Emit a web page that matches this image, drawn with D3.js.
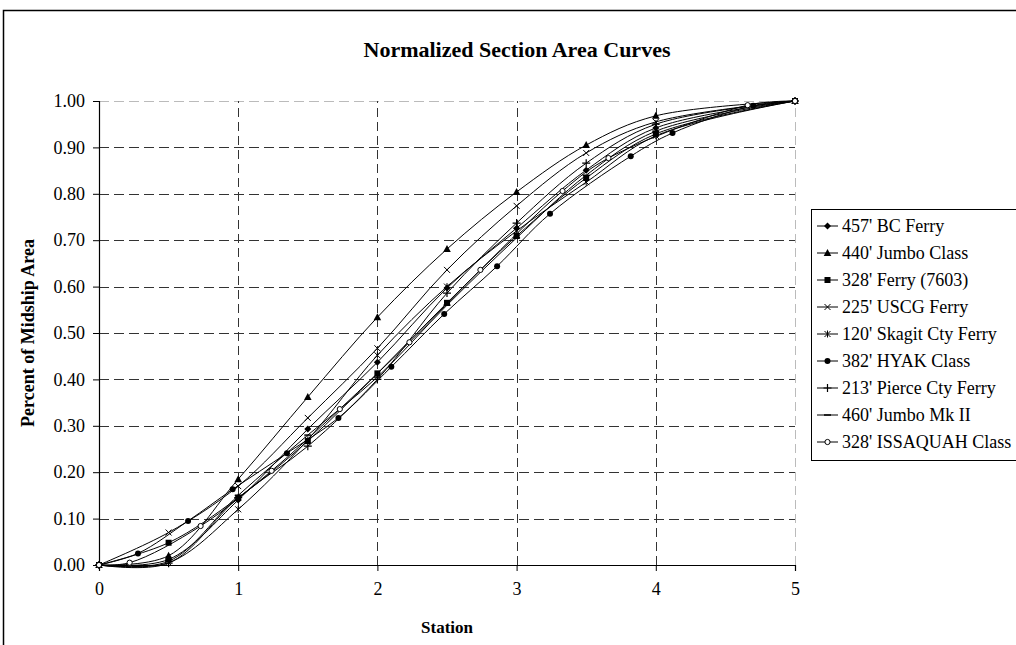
<!DOCTYPE html>
<html>
<head>
<meta charset="utf-8">
<script src="https://cdn.jsdelivr.net/npm/d3@7"></script>
<style>
  html, body { margin: 0; padding: 0; background: #fff; }
  svg { display: block; }
  text { font-family: "Liberation Serif", "Times New Roman", serif; fill: #000; }
</style>
</head>
<body>
<svg id="chart" width="1016" height="645"></svg>
<script>
// ---------------- data ----------------
const seriesNames = [
  "457' BC Ferry", "440' Jumbo Class", "328' Ferry (7603)", "225' USCG Ferry",
  "120' Skagit Cty Ferry", "382' HYAK Class", "213' Pierce Cty Ferry",
  "460' Jumbo Mk II", "328' ISSAQUAH Class"
];
const stations = [0, 0.5, 1, 1.5, 2, 2.5, 3, 3.5, 4, 5];
const bcFerry    = [0, 0.012, 0.140, 0.293, 0.437, 0.597, 0.726, 0.851, 0.942, 1.0];
const jumbo440   = [0, 0.020, 0.185, 0.362, 0.534, 0.681, 0.804, 0.905, 0.968, 1.0];
const ferry7603  = [0, 0.048, 0.145, 0.267, 0.413, 0.565, 0.709, 0.834, 0.929, 1.0];
const uscgFerry  = [0, 0.070, 0.170, 0.317, 0.467, 0.636, 0.774, 0.888, 0.955, 1.0];
const skagit     = [0, 0.005, 0.120, 0.270, 0.452, 0.600, 0.720, 0.825, 0.925, 1.0];
const pierce     = [0, 0.004, 0.145, 0.256, 0.400, 0.586, 0.737, 0.866, 0.950, 1.0];
const jumboMk2   = [0, 0.008, 0.150, 0.280, 0.405, 0.560, 0.705, 0.840, 0.935, 1.0];
const hyakStations = [0, 0.28, 0.64, 0.96, 1.35, 1.72, 2.10, 2.48, 2.86, 3.24, 3.82, 4.12, 4.70, 5];
const hyak         = [0, 0.025, 0.095, 0.163, 0.241, 0.317, 0.427, 0.541, 0.644, 0.757, 0.881, 0.931, 0.990, 1.0];
const issaquahStations = [0, 0.22, 0.73, 1.24, 1.73, 2.23, 2.74, 3.33, 3.66, 4.66, 5];
const issaquah         = [0, 0.005, 0.084, 0.203, 0.336, 0.480, 0.636, 0.806, 0.877, 0.991, 1.0];
const markerTypes = ["diamond", "triangle", "square", "x", "asterisk", "dot", "plus", "dash", "open"];
const xTicks = [0, 1, 2, 3, 4, 5];
const yTicks = [0, 0.1, 0.2, 0.3, 0.4, 0.5, 0.6, 0.7, 0.8, 0.9, 1.0];

const seriesX = [stations, stations, stations, stations, stations, hyakStations, stations, stations, issaquahStations];
const seriesY = [bcFerry, jumbo440, ferry7603, uscgFerry, skagit, hyak, pierce, jumboMk2, issaquah];
const series = seriesNames.map((name, i) => ({
  name, marker: markerTypes[i],
  pts: seriesX[i].map((s, j) => ({ x: s, y: seriesY[i][j] }))
}));

// ---------------- layout ----------------
const svg = d3.select("#chart");
const x = d3.scaleLinear().domain([0, 5]).range([99, 795]);
const y = d3.scaleLinear().domain([0, 1]).range([565, 101]);

// chart frame (extends past the right and bottom edges)
svg.append("rect").attr("x", 3.5).attr("y", 10.5).attr("width", 1040).attr("height", 660)
  .attr("fill", "#fff").attr("stroke", "#000").attr("stroke-width", 1.5);

// title
svg.append("text").attr("x", 517).attr("y", 57).attr("text-anchor", "middle")
  .attr("font-size", 22).attr("font-weight", "bold").text("Normalized Section Area Curves");

// gridlines
const grid = svg.append("g");
yTicks.filter(t => t > 0).forEach(t => {
  grid.append("line").attr("x1", x(0)).attr("x2", x(5)).attr("y1", Math.round(y(t)) + 0.5).attr("y2", Math.round(y(t)) + 0.5)
    .attr("stroke", t === 1 ? "#bbb" : "#333").attr("stroke-width", 1).attr("stroke-dasharray", "10,5");
});
xTicks.filter(t => t > 0).forEach(t => {
  grid.append("line").attr("y1", y(0)).attr("y2", y(1)).attr("x1", Math.round(x(t)) + 0.5).attr("x2", Math.round(x(t)) + 0.5)
    .attr("stroke", t === 5 ? "#bbb" : "#333").attr("stroke-width", 1).attr("stroke-dasharray", "9,5");
});

// axes
const yAxis = d3.axisLeft(y).tickValues(yTicks).tickFormat(d3.format(".2f")).tickSize(6).tickPadding(8);
const xAxis = d3.axisBottom(x).tickValues(xTicks).tickFormat(d3.format("d")).tickSize(6).tickPadding(11);
const gy = svg.append("g").attr("transform", `translate(${x(0)},0)`).call(yAxis);
const gx = svg.append("g").attr("transform", `translate(0,${y(0)})`).call(xAxis);
[gy, gx].forEach(g => {
  g.select(".domain").attr("stroke", "#000").attr("stroke-width", 1.2);
  g.selectAll(".tick line").attr("stroke", "#000");
  g.selectAll(".tick text").attr("font-size", 18).attr("font-family", "'Liberation Serif', serif").attr("fill", "#000");
});

// axis titles
svg.append("text").attr("transform", "translate(34,333) rotate(-90)").attr("text-anchor", "middle")
  .attr("font-size", 18).attr("font-weight", "bold").text("Percent of Midship Area");
svg.append("text").attr("x", 447).attr("y", 633).attr("text-anchor", "middle")
  .attr("font-size", 17).attr("font-weight", "bold").text("Station");

// marker drawing
function drawMarker(g, type, cx, cy) {
  switch (type) {
    case "diamond":
      g.append("path").attr("d", `M${cx},${cy-3.5}L${cx+3.5},${cy}L${cx},${cy+3.5}L${cx-3.5},${cy}Z`).attr("fill", "#000"); break;
    case "triangle":
      g.append("path").attr("d", `M${cx},${cy-4}L${cx+3.8},${cy+3}L${cx-3.8},${cy+3}Z`).attr("fill", "#000"); break;
    case "square":
      g.append("rect").attr("x", cx-3).attr("y", cy-3).attr("width", 6).attr("height", 6).attr("fill", "#000"); break;
    case "x":
      g.append("path").attr("d", `M${cx-3},${cy-3}L${cx+3},${cy+3}M${cx-3},${cy+3}L${cx+3},${cy-3}`).attr("stroke", "#000").attr("stroke-width", 1); break;
    case "asterisk":
      g.append("path").attr("d", `M${cx-3},${cy-3}L${cx+3},${cy+3}M${cx-3},${cy+3}L${cx+3},${cy-3}M${cx},${cy-3.5}L${cx},${cy+3.5}`).attr("stroke", "#000").attr("stroke-width", 1); break;
    case "dot":
      g.append("circle").attr("cx", cx).attr("cy", cy).attr("r", 3).attr("fill", "#000"); break;
    case "plus":
      g.append("path").attr("d", `M${cx-4},${cy}L${cx+4},${cy}M${cx},${cy-4}L${cx},${cy+4}`).attr("stroke", "#000").attr("stroke-width", 1.2); break;
    case "dash":
      g.append("path").attr("d", `M${cx-3.5},${cy}L${cx+3.5},${cy}`).attr("stroke", "#000").attr("stroke-width", 1.5); break;
    case "open":
      g.append("circle").attr("cx", cx).attr("cy", cy).attr("r", 2.6).attr("fill", "#fff").attr("stroke", "#000").attr("stroke-width", 1); break;
  }
}

// series
const line = d3.line().x(d => x(d.x)).y(d => y(d.y)).curve(d3.curveCatmullRom.alpha(0.5));
const plot = svg.append("g");
series.forEach(s => {
  plot.append("path").attr("d", line(s.pts)).attr("fill", "none").attr("stroke", "#000").attr("stroke-width", 1);
});
series.forEach(s => {
  const g = plot.append("g");
  s.pts.forEach(p => drawMarker(g, s.marker, x(p.x), y(p.y)));
});

// legend
const lgX = 811, lgTop = 209, lgRow = 27;
svg.append("rect").attr("x", lgX + 0.5).attr("y", lgTop + 0.5).attr("width", 300).attr("height", lgRow * series.length + 8)
  .attr("fill", "#fff").attr("stroke", "#000").attr("stroke-width", 1);
series.forEach((s, i) => {
  const cy = lgTop + 17 + i * lgRow;
  const g = svg.append("g");
  g.append("line").attr("x1", lgX + 6).attr("x2", lgX + 27).attr("y1", cy).attr("y2", cy).attr("stroke", "#000").attr("stroke-width", 1);
  drawMarker(g, s.marker, lgX + 16.5, cy);
  g.append("text").attr("x", lgX + 31).attr("y", cy + 6).attr("font-size", 18).text(s.name);
});
</script>
</body>
</html>
